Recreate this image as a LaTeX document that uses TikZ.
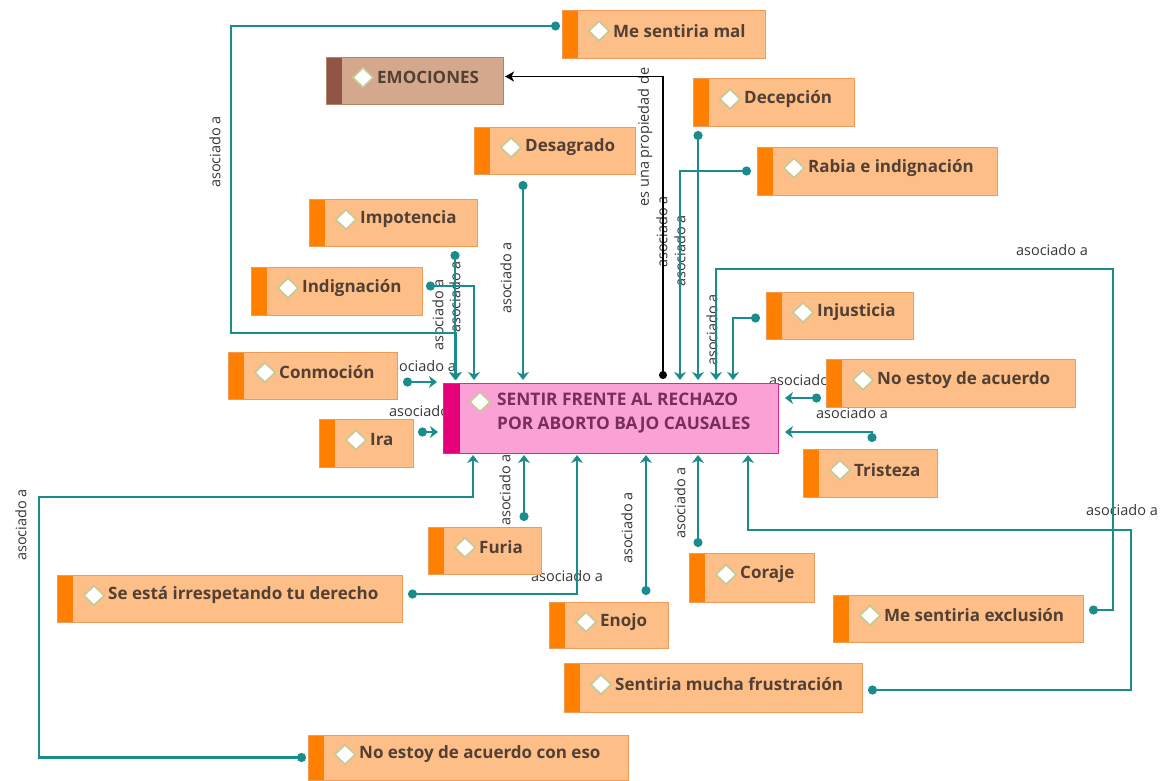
\documentclass[tikz,border=0pt]{standalone}
\usepackage{fontspec}
\setmainfont{Open Sans}
\newfontfamily\bxfont{Open Sans}
\usetikzlibrary{shapes.geometric,arrows.meta}
\definecolor{ofill}{RGB}{253,190,136}
\definecolor{oborder}{RGB}{236,156,88}
\definecolor{ostrip}{RGB}{255,127,0}
\definecolor{efill}{RGB}{212,168,140}
\definecolor{eborder}{RGB}{178,130,106}
\definecolor{estrip}{RGB}{145,85,72}
\definecolor{cfill}{RGB}{250,162,214}
\definecolor{cborder}{RGB}{222,40,140}
\definecolor{cstrip}{RGB}{228,0,120}
\definecolor{ctext}{RGB}{120,45,92}
\definecolor{btext}{RGB}{82,64,52}
\definecolor{ltext}{RGB}{55,55,55}
\definecolor{tealc}{RGB}{26,140,140}
\definecolor{dborder}{RGB}{196,202,150}
\pgfdeclarelayer{bg}
\pgfsetlayers{bg,main}
\tikzset{
 anybox/.style={anchor=north west, inner sep=0pt, outer sep=0pt, line width=1pt},
 obox/.style={anybox, draw=oborder, fill=ofill, path picture={\fill[ostrip] (path picture bounding box.north west) rectangle ([xshift=16pt]path picture bounding box.south west);}},
 ebox/.style={anybox, draw=eborder, fill=efill, path picture={\fill[estrip] (path picture bounding box.north west) rectangle ([xshift=16pt]path picture bounding box.south west);}},
 cbox/.style={anybox, draw=cborder, fill=cfill, path picture={\fill[cstrip] (path picture bounding box.north west) rectangle ([xshift=17pt]path picture bounding box.south west);}},
 diam/.style={diamond, draw=dborder, fill=white, line width=1.6pt, minimum width=21pt, minimum height=20pt, inner sep=0pt},
 btxt/.style={font=\bxfont\bfseries\fontsize{17}{21}\selectfont, text=btext, inner sep=0pt, anchor=west},
 lab/.style={font=\fontsize{14.5}{16}\selectfont, text=ltext, inner sep=0pt},
 vlab/.style={lab, rotate=90},
 conn/.style={draw=tealc, line width=2.4pt, {Circle[length=9pt]}-{Stealth[length=8pt,width=12pt,inset=2.5pt]}, shorten <=2pt, shorten >=3pt},
 blk/.style={draw=black, line width=1.3pt, {Circle[length=8pt]}-{Stealth[length=9pt,width=10pt,inset=2.5pt]}, shorten <=4pt, shorten >=2pt},
}
\newcommand\obx[7]{%
 \node[#1, minimum width={(#5-#3)*1pt}, minimum height={(#6-#4)*1pt}] (#2) at (#3,#4) {};
 \node[diam] (#2d) at ([xshift=37pt,yshift=3pt]#2.west) {};
 \node[btxt] (#2t) at ([xshift=51pt,yshift=3pt]#2.west) {#7};
}
\begin{document}
\begin{tikzpicture}[x=1pt,y=-1pt]
\useasboundingbox (0,0) rectangle (1165,780);
% boxes
\obx{obox}{mal}{562}{10}{765}{58}{Me sentiria mal}
\obx{ebox}{emo}{326}{57}{503}{104}{EMOCIONES}
\obx{obox}{dec}{693}{78}{854}{126}{Decepción}
\obx{obox}{des}{474}{127}{635}{174}{Desagrado}
\obx{obox}{rab}{757}{147}{997}{195}{Rabia e indignación}
\obx{obox}{imp}{309}{199}{477}{246}{Impotencia}
\obx{obox}{ind}{251}{267}{422}{315}{Indignación}
\obx{obox}{inj}{766}{292}{913}{339}{Injusticia}
\obx{obox}{con}{228}{352}{397}{399}{Conmoción}
\obx{obox}{acu}{826}{359}{1075}{407}{No estoy de acuerdo}
\obx{obox}{ira}{319}{419}{413}{467}{Ira}
\obx{obox}{tri}{803}{449}{937}{497}{Tristeza}
\obx{obox}{fur}{428}{527}{541}{574}{Furia}
\obx{obox}{cor}{689}{553}{814}{602}{Coraje}
\obx{obox}{se}{57}{575}{402}{622}{Se está irrespetando tu derecho}
\obx{obox}{exc}{833}{595}{1083}{642}{Me sentiria exclusión}
\obx{obox}{eno}{549}{602}{668}{648}{Enojo}
\obx{obox}{fru}{564}{663}{862}{712}{Sentiria mucha frustración}
\obx{obox}{eso}{308}{735}{628}{780}{No estoy de acuerdo con eso}
% central node
\node[cbox, minimum width=335pt, minimum height=70pt] (c) at (443,383) {};
\node[diam] (cd) at ([xshift=37pt,yshift=16pt]c.west) {};
\node[font=\bxfont\bfseries\fontsize{17.3}{24}\selectfont, text=ctext, inner sep=0pt, anchor=west, align=left] (ct) at ([xshift=54pt,yshift=5pt]c.west) {SENTIR FRENTE AL RECHAZO\\POR ABORTO BAJO CAUSALES};
\begin{pgfonlayer}{bg}
\fill[white] (0,0) rectangle (1165,780);
% labels
\node[vlab] (l1) at (215,152) {asociado a};
\node[vlab] (l2) at (645,137) {es una propiedad de};
\node[vlab] (l3) at (506,278) {asociado a};
\node[vlab] (l4) at (438,315) {asociado a};
\node[vlab] (l5) at (455,297) {asociado a};
\node[vlab] (l6) at (662,232) {asociado a};
\node[vlab] (l7) at (680,251) {asociado a};
\node[vlab] (l8) at (712,330) {asociado a};
\node[lab] (l9) at (1052,250) {asociado a};
\node[lab] (l10) at (420,366) {asociado a};
\node[lab] (l11) at (425,411) {asociado a};
\node[lab] (l12) at (805,380) {asociado a};
\node[lab] (l13) at (852,413) {asociado a};
\node[vlab] (l14) at (21,525) {asociado a};
\node[vlab] (l15) at (505,490) {asociado a};
\node[lab] (l16) at (567,576) {asociado a};
\node[vlab] (l17) at (627,528) {asociado a};
\node[vlab] (l18) at (680,503) {asociado a};
\node[lab] (l19) at (1122,510) {asociado a};
% connectors
\draw[conn] ([yshift=8pt]mal.west) -| (231,333) -| (c.north -| 456,0);
\draw[blk] (c.north -| 663,0) |- ([yshift=4pt]emo.east);
\draw[conn, shorten <=7pt] (des.south -| 523,0) -- (c.north -| 523,0);
\draw[conn, shorten <=5pt] (imp.south -| 455,0) -- (c.north -| 455,0);
\draw[conn, shorten <=4pt] ([yshift=5pt]ind.east) -| (c.north -| 474,0);
\draw[conn, shorten <=6pt, shorten >=6pt] ([yshift=-6.5pt]con.east) -- ([yshift=-6.5pt]con.east -| c.west);
\draw[conn, shorten <=5pt, shorten >=5pt] ([yshift=11pt]ira.east) -- ([yshift=11pt]ira.east -| c.west);
\draw[conn, shorten <=6pt, shorten >=2pt] ([yshift=4.5pt]se.east) -| (c.south -| 577,0);
\draw[conn, shorten >=2pt] (eso.west) -| (39,497) -| (c.south -| 473,0);
\draw[conn, shorten <=6pt, shorten >=2pt] (fur.north -| 524,0) -- (c.south -| 524,0);
\draw[conn, shorten <=7pt, shorten >=2pt] (eno.north -| 646,0) -- (c.south -| 646,0);
\draw[conn, shorten <=6pt, shorten >=2pt] (cor.north -| 698,0) -- (c.south -| 698,0);
\draw[conn, shorten <=6pt, shorten >=2pt] ([yshift=-2.5pt]fru.east) -| (1131,530) -| (c.south -| 748,0);
\draw[conn, shorten <=6pt] ([yshift=8.5pt]exc.east) -| (1113,269) -| (c.north -| 716,0);
\draw[conn, shorten <=7pt, shorten >=7pt] (tri.north -| 872,0) |- ([yshift=-14pt]c.east);
\draw[conn, shorten <=5pt, shorten >=7pt] ([yshift=-15pt]acu.west) -- ([yshift=-15pt]acu.west -| c.east);
\draw[conn, shorten <=6pt] ([yshift=-2.5pt]inj.west) -| (c.north -| 733,0);
\draw[conn, shorten <=6pt] (rab.west) -| (c.north -| 680,0);
\draw[conn, shorten <=5pt] (dec.south -| 698,0) -- (c.north -| 698,0);
\end{pgfonlayer}
\end{tikzpicture}
\end{document}
